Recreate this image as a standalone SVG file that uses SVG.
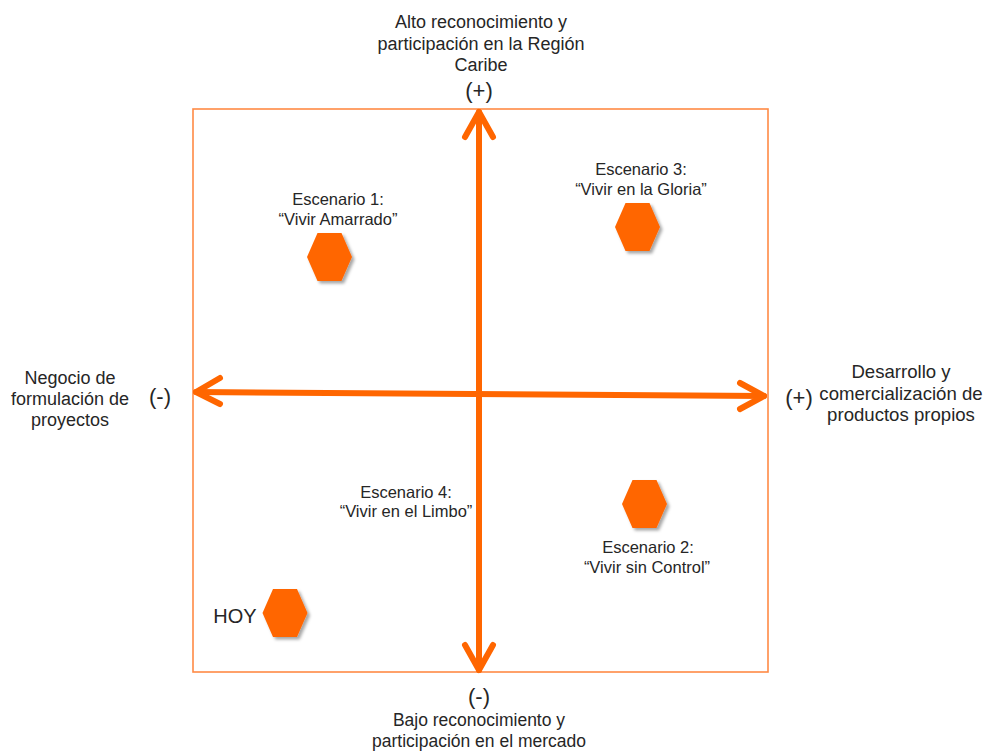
<svg xmlns="http://www.w3.org/2000/svg" xmlns:xlink="http://www.w3.org/1999/xlink" width="986" height="751" viewBox="0 0 986 751">
<style>
text{font-family:"Liberation Sans",Arial,sans-serif;fill:#262626;text-anchor:middle}
.ax{font-size:18px}
.axb{font-size:17.5px}
.axr{font-size:18.6px}
.sc{font-size:16.5px}
.sg{font-size:22px}
.hoy{font-size:20px}
.frame{fill:none;stroke:#FF8A45;stroke-width:1.6}
.arr{fill:none;stroke:#FF6600;stroke-width:6;stroke-linecap:round;stroke-linejoin:round}
.hex{fill:#FF6600;filter:url(#sh)}
</style>
<defs>
<filter id="sh" x="-30%" y="-30%" width="160%" height="160%">
<feDropShadow dx="2.5" dy="2.5" stdDeviation="1.5" flood-color="#000" flood-opacity="0.35"/>
</filter>
<polygon id="hx" points="-22.5,0 -12,-24 12,-24 22.5,0 12,24 -12,24"/>
</defs>
<rect width="986" height="751" fill="#fff"/>
<rect class="frame" x="193" y="109" width="575" height="563"/>
<g id="connectors">
<path class="arr" d="M479,670 L479,112"/>
<path class="arr" d="M465,137 L479,112 L493,137"/>
<path class="arr" d="M465,645 L479,670 L493,645"/>
<path class="arr" d="M196,392 L764,396"/>
<path class="arr" d="M220,378 L196,392 L220,404"/>
<path class="arr" d="M740,383 L764,396 L740,409"/>
</g>
<g id="axis-top">
<text class="ax" x="481" y="28">Alto reconocimiento y</text>
<text class="ax" x="481" y="50">participación en la Región</text>
<text class="ax" x="481" y="71">Caribe</text>
<text class="sg" x="479" y="98">(+)</text>
</g>
<g id="axis-bottom">
<text class="sg" x="479" y="704">(-)</text>
<text class="axb" x="479" y="726">Bajo reconocimiento y</text>
<text class="axb" x="479" y="747">participación en el mercado</text>
</g>
<g id="axis-left">
<text class="ax" x="70" y="384">Negocio de</text>
<text class="ax" x="70" y="405">formulación de</text>
<text class="ax" x="70" y="426">proyectos</text>
<text class="sg" x="160" y="404">(-)</text>
</g>
<g id="axis-right">
<text class="sg" x="799" y="405">(+)</text>
<text class="axr" x="901" y="378">Desarrollo y</text>
<text class="axr" x="901" y="400">comercialización de</text>
<text class="axr" x="901" y="421">productos propios</text>
</g>
<g id="escenario1">
<text class="sc" x="338" y="205">Escenario 1:</text>
<text class="sc" x="338" y="225">“Vivir Amarrado”</text>
<use xlink:href="#hx" class="hex" x="329.5" y="257"/>
</g>
<g id="escenario3">
<text class="sc" x="641" y="175">Escenario 3:</text>
<text class="sc" x="641" y="195">“Vivir en la Gloria”</text>
<use xlink:href="#hx" class="hex" x="637.5" y="227"/>
</g>
<g id="escenario4">
<text class="sc" x="406" y="498">Escenario 4:</text>
<text class="sc" x="406" y="517">“Vivir en el Limbo”</text>
</g>
<g id="escenario2">
<use xlink:href="#hx" class="hex" x="644.5" y="504"/>
<text class="sc" x="648" y="553">Escenario 2:</text>
<text class="sc" x="647" y="573">“Vivir sin Control”</text>
</g>
<g id="hoy">
<text class="hoy" x="235" y="623">HOY</text>
<use xlink:href="#hx" class="hex" x="285" y="613"/>
</g>
</svg>
